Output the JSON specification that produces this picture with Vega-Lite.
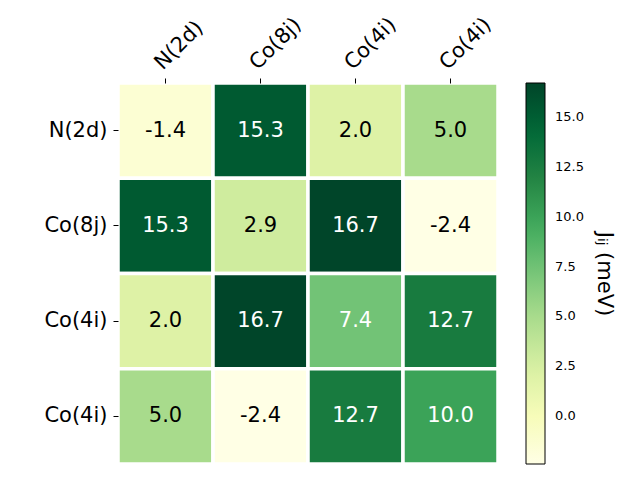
{
  "$schema": "https://vega.github.io/schema/vega-lite/v6.json",
  "autosize": {"type": "none"},
  "padding": {"left": 118, "top": 83, "right": 142, "bottom": 16},
  "width": 380,
  "height": 381,
  "config": {
    "font": "DejaVu Sans",
    "locale": {"number": {"decimal": ".", "thousands": ",", "grouping": [3], "currency": ["", ""], "minus": "-"}},
    "view": {"stroke": null},
    "axis": {"grid": false, "domain": false, "tickColor": "black", "tickSize": 5, "tickWidth": 1, "labelColor": "black", "labelFont": "DejaVu Sans", "labelFontSize": 21, "title": null}
  },
  "data": {
    "values": [
      {"r": 0, "c": 0, "v": -1.4}, {"r": 0, "c": 1, "v": 15.3}, {"r": 0, "c": 2, "v": 2.0}, {"r": 0, "c": 3, "v": 5.0},
      {"r": 1, "c": 0, "v": 15.3}, {"r": 1, "c": 1, "v": 2.9}, {"r": 1, "c": 2, "v": 16.7}, {"r": 1, "c": 3, "v": -2.4},
      {"r": 2, "c": 0, "v": 2.0}, {"r": 2, "c": 1, "v": 16.7}, {"r": 2, "c": 2, "v": 7.4}, {"r": 2, "c": 3, "v": 12.7},
      {"r": 3, "c": 0, "v": 5.0}, {"r": 3, "c": 1, "v": -2.4}, {"r": 3, "c": 2, "v": 12.7}, {"r": 3, "c": 3, "v": 10.0}
    ]
  },
  "encoding": {
    "x": {
      "field": "c", "type": "ordinal", "scale": {"paddingInner": 0, "paddingOuter": 0},
      "axis": {"orient": "top", "labelAngle": -45, "labelAlign": "left", "labelBaseline": "bottom", "labelPadding": 5,
               "labelExpr": "['N(2d)','Co(8j)','Co(4i)','Co(4i)'][datum.value]"}
    },
    "y": {
      "field": "r", "type": "ordinal", "scale": {"paddingInner": 0, "paddingOuter": 0},
      "axis": {"labelPadding": 6, "labelExpr": "['N(2d)','Co(8j)','Co(4i)','Co(4i)'][datum.value]"}
    }
  },
  "layer": [
    {
      "mark": {"type": "rect", "stroke": "white", "strokeWidth": 3.5},
      "encoding": {
        "color": {
          "field": "v", "type": "quantitative",
          "scale": {
            "type": "linear",
            "domain": [-2.4, -0.0125, 2.375, 4.7625, 7.15, 9.5375, 11.925, 14.3125, 16.7],
            "range": ["#ffffe5", "#f7fcb9", "#d9f0a3", "#addd8e", "#78c679", "#41ab5d", "#238443", "#006837", "#004529"],
            "interpolate": "rgb"
          },
          "legend": {
            "title": "Jᵢⱼ (meV)",
            "orient": "right", "offset": 28, "padding": 0,
            "gradientLength": 381, "gradientThickness": 19,
            "gradientStrokeColor": "black", "gradientStrokeWidth": 1,
            "values": [0, 2.5, 5, 7.5, 10, 12.5, 15], "format": ".1f",
            "labelFontSize": 13, "labelColor": "black", "labelOffset": 10, "labelOverlap": false,
            "titleOrient": "right", "titleAnchor": "middle", "titleFontSize": 21, "titleFontWeight": "normal",
            "titleColor": "black", "titlePadding": 10
          }
        }
      }
    },
    {
      "mark": {"type": "text", "fontSize": 21, "font": "DejaVu Sans"},
      "encoding": {
        "text": {"field": "v", "type": "quantitative", "format": ".1f"},
        "color": {"condition": {"test": "datum.v > 7", "value": "white"}, "value": "black"}
      }
    }
  ]
}
